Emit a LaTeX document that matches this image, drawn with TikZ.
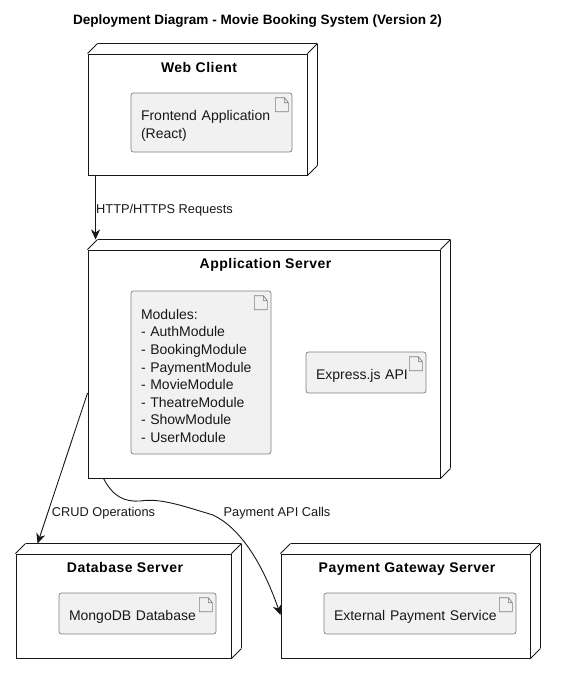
\documentclass[tikz,border=0pt]{standalone}
\usepackage{fontspec}
\setmainfont{Liberation Sans}
\usetikzlibrary{positioning,arrows.meta}
\definecolor{linedark}{HTML}{181818}
\definecolor{artifactfill}{HTML}{F1F1F1}
\definecolor{artifactline}{HTML}{808080}
\tikzset{
servernode/.style={draw=linedark, line width=0.9pt, fill=white, inner sep=0pt,
  append after command={
    (\tikzlastnode.north west) edge[draw=linedark, line width=0.9pt] ++(10pt,10pt)
    (\tikzlastnode.north east) edge[draw=linedark, line width=0.9pt] ++(10pt,10pt)
    (\tikzlastnode.south east) edge[draw=linedark, line width=0.9pt] ++(10pt,10pt)
    ([shift={(10pt,10pt)}]\tikzlastnode.north west) edge[draw=linedark, line width=0.9pt] ([shift={(10pt,10pt)}]\tikzlastnode.north east)
    ([shift={(10pt,10pt)}]\tikzlastnode.north east) edge[draw=linedark, line width=0.9pt] ([shift={(10pt,10pt)}]\tikzlastnode.south east)
  }},
servertitle/.style={font=\bfseries\fontsize{14}{16}\selectfont\addfontfeature{LetterSpace=3.5}, inner sep=0pt, xshift=1.5pt},
artifactbox/.style={draw=artifactline, fill=artifactfill, rounded corners=2.5pt, line width=0.7pt,
  inner xsep=10pt, inner ysep=0pt, text width=#1, align=left, text=linedark,
  font=\fontsize{14}{17.6}\selectfont, execute at begin node={\rule{0pt}{17pt}},
  append after command={
    ([shift={(-17pt,-5pt)}]\tikzlastnode.north east) edge[artifactline, line width=0.7pt, rounded corners=0pt, to path={
      -- ++(9pt,0pt) -- ++(4pt,-5pt) -- ++(0pt,-9pt) -- ++(-13pt,0pt) -- cycle
      ++(9pt,0pt) -- ++(0pt,-5pt) -- ++(4pt,0pt)}] ()
  }},
edgetext/.style={font=\fontsize{12.8}{14}\selectfont, text=linedark, inner sep=0pt},
flow/.style={draw=linedark, line width=0.9pt, -{Stealth[length=10pt,width=9pt,inset=3pt]}}
}
\begin{document}
\begin{tikzpicture}[x=1pt, y=-1pt]
\useasboundingbox (0,0) rectangle (584,688);
\node[font=\bfseries\fontsize{13.55}{16}\selectfont, inner sep=0pt] (diagramtitle) at (257.5,21.5) {Deployment Diagram - Movie Booking System (Version 2)};

\node[servernode, minimum width=219pt, minimum height=121pt] (webclient) at (197.5,114.5) {};
\node[servertitle, below=9pt of webclient.north] (webclienttitle) {Web Client};
\node[artifactbox=141pt, minimum height=59pt] (frontend) at (211.5,122.5) {Frontend Application\\(React)};

\node[servernode, minimum width=352pt, minimum height=228pt] (appserver) at (264,364) {};
\node[servertitle, below=9pt of appserver.north] (appservertitle) {Application Server};
\node[artifactbox=120pt, minimum height=163pt] (modules) at (201,372.5) {Modules:\\- AuthModule\\- BookingModule\\- PaymentModule\\- MovieModule\\- TheatreModule\\- ShowModule\\- UserModule};
\node[artifactbox=100pt, minimum height=41pt] (expressapi) at (366,372.5) {Express.js API};

\node[servernode, minimum width=215pt, minimum height=104pt] (dbserver) at (123.5,606) {};
\node[servertitle, below=9pt of dbserver.north] (dbservertitle) {Database Server};
\node[artifactbox=137pt, minimum height=41pt] (mongodb) at (137.5,613.5) {MongoDB Database};

\node[servernode, minimum width=249pt, minimum height=104pt] (payserver) at (405.5,606) {};
\node[servertitle, below=9pt of payserver.north] (payservertitle) {Payment Gateway Server};
\node[artifactbox=172pt, minimum height=41pt] (payservice) at (420,613.5) {External Payment Service};

\coordinate (webout) at ([xshift=8pt]webclient.south west);
\coordinate (appin) at ([shift={(8pt,10pt)}]appserver.north west);
\coordinate (appleft) at ([yshift=-29pt]appserver.west);
\coordinate (appbottom) at ([xshift=16pt]appserver.south west);
\coordinate (dbin) at ([shift={(22pt,10pt)}]dbserver.north west);
\coordinate (payin) at ([yshift=-9pt]payserver.west);

\draw[flow] (webout) -- (appin);
\draw[flow] (appleft) -- (dbin);
\draw[flow] (appbottom) .. controls (113,497) and (125,502) .. (140,501)
  .. controls (160,498) and (180,505) .. (213,515)
  .. controls (240,528) and (262,562) .. (payin);

\node[edgetext] (httplabel) at (164.5,210.5) {HTTP/HTTPS Requests};
\node[edgetext] (crudlabel) at (103.5,513.5) {CRUD Operations};
\node[edgetext] (paylabel) at (277,513.5) {Payment API Calls};
\end{tikzpicture}
\end{document}
